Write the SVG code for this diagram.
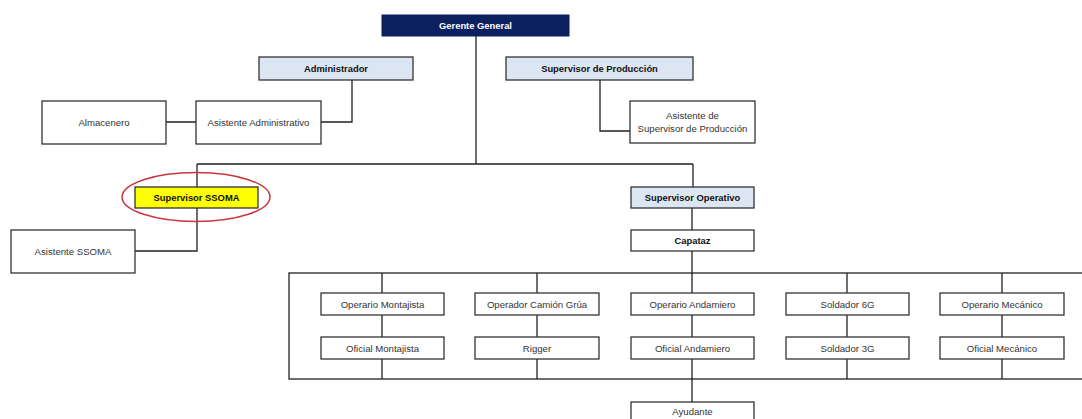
<svg xmlns="http://www.w3.org/2000/svg" width="1082" height="419" viewBox="0 0 1082 419">
<style>
.box{fill:#fff;stroke:#333;stroke-width:1.3}
.blue{fill:#dce6f2;stroke:#333;stroke-width:1.3}
.t{font-family:"Liberation Sans",Arial,sans-serif;font-size:9.6px;fill:#333;text-anchor:middle}
.b{font-family:"Liberation Sans",Arial,sans-serif;font-size:9.4px;font-weight:bold;fill:#111;text-anchor:middle}
.c{fill:none;stroke:#222;stroke-width:1.3}
</style>
<rect width="1082" height="419" fill="#fff"/>
<g id="connectors">
<path class="c" d="M476 36V164M197 164H693M693 164V187"/>
<path class="c" d="M352 80V122H321M166 122H196"/>
<path class="c" d="M600 80V131H630"/>
<path class="c" d="M197 164V187M197 208V251H135"/>
<path class="c" d="M692 208V230M692 251V402"/>
<rect class="c" x="289" y="273" width="800" height="106"/>
<path class="c" d="M382 273V379M537 273V379M847 273V379M1002 273V379"/>
</g>
<g id="gerente"><rect x="382" y="15" width="187" height="21" fill="#0c1f5e" stroke="#0c1f5e"/><text class="b" x="475.5" y="29" fill="#fff" style="fill:#fff">Gerente General</text></g>
<g id="administrador"><rect class="blue" x="259" y="57" width="154" height="23"/><text class="b" x="336" y="72">Administrador</text></g>
<g id="supervisor-produccion"><rect class="blue" x="506" y="57" width="187" height="23"/><text class="b" x="599.5" y="72">Supervisor de Producción</text></g>
<g id="almacenero"><rect class="box" x="42" y="101" width="124" height="43"/><text class="t" x="104" y="126">Almacenero</text></g>
<g id="asistente-administrativo"><rect class="box" x="196" y="101" width="125" height="43"/><text class="t" x="258.5" y="126">Asistente Administrativo</text></g>
<g id="asistente-supervisor-produccion"><rect class="box" x="630" y="101" width="125" height="42"/><text class="t" x="692.5" y="119">Asistente de</text><text class="t" x="692.5" y="132">Supervisor de Producción</text></g>
<g id="supervisor-ssoma"><rect x="135" y="187" width="123" height="21" fill="#ffff00" stroke="#333" stroke-width="1.3"/><text class="b" x="196.5" y="201">Supervisor SSOMA</text><ellipse cx="196" cy="197" rx="74" ry="24.5" fill="none" stroke="#c8363a" stroke-width="1.5"/></g>
<g id="asistente-ssoma"><rect class="box" x="11" y="230" width="124" height="43"/><text class="t" x="73" y="255">Asistente SSOMA</text></g>
<g id="supervisor-operativo"><rect class="blue" x="631" y="187" width="123" height="21"/><text class="b" x="692.5" y="201">Supervisor Operativo</text></g>
<g id="capataz"><rect class="box" x="631" y="230" width="123" height="21"/><text class="b" x="692.5" y="244">Capataz</text></g>
<g id="operario-montajista"><rect class="box" x="321" y="293" width="123" height="22"/><text class="t" x="382.5" y="307.5">Operario Montajista</text></g>
<g id="oficial-montajista"><rect class="box" x="321" y="337" width="123" height="22"/><text class="t" x="382.5" y="351.5">Oficial Montajista</text></g>
<g id="operador-camion-grua"><rect class="box" x="475" y="293" width="124" height="22"/><text class="t" x="537" y="307.5">Operador Camión Grúa</text></g>
<g id="rigger"><rect class="box" x="475" y="337" width="124" height="22"/><text class="t" x="537" y="351.5">Rigger</text></g>
<g id="operario-andamiero"><rect class="box" x="631" y="293" width="123" height="22"/><text class="t" x="692.5" y="307.5">Operario Andamiero</text></g>
<g id="oficial-andamiero"><rect class="box" x="631" y="337" width="123" height="22"/><text class="t" x="692.5" y="351.5">Oficial Andamiero</text></g>
<g id="soldador-6g"><rect class="box" x="786" y="293" width="123" height="22"/><text class="t" x="847.5" y="307.5">Soldador 6G</text></g>
<g id="soldador-3g"><rect class="box" x="786" y="337" width="123" height="22"/><text class="t" x="847.5" y="351.5">Soldador 3G</text></g>
<g id="operario-mecanico"><rect class="box" x="940" y="293" width="124" height="22"/><text class="t" x="1002" y="307.5">Operario Mecánico</text></g>
<g id="oficial-mecanico"><rect class="box" x="940" y="337" width="124" height="22"/><text class="t" x="1002" y="351.5">Oficial Mecánico</text></g>
<g id="ayudante"><rect class="box" x="631" y="402" width="123" height="22"/><text class="t" x="692.5" y="414.5">Ayudante</text></g>
</svg>
